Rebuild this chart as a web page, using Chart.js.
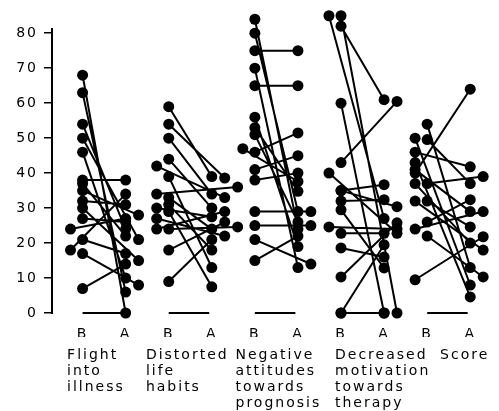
<!DOCTYPE html>
<html>
<head>
<meta charset="utf-8">
<script src="https://cdn.jsdelivr.net/npm/chart.js@4"></script>
<style>
  html, body { margin: 0; padding: 0; background: #fff; }
  canvas { display: block; background: #fff; }
</style>
</head>
<body>
<canvas id="c" width="499" height="411"></canvas>
<script>
// ---------- data ----------
const categories = [
  ["Flight", "into", "illness"],
  ["Distorted", "life", "habits"],
  ["Negative", "attitudes", "towards", "prognosis"],
  ["Decreased", "motivation", "towards", "therapy"],
  ["Score"]
];
const phaseLabels = ["B", "A"];
const yTicks = [0, 10, 20, 30, 40, 50, 60, 70, 80];

// Before / After values per subject (paired by index)
const flightB     = [68, 63, 54, 50, 46, 38, 37, 35, 32, 30, 27, 24, 21, 18, 17, 7];
const flightA     = [0, 6, 24, 21, 10, 38, 22, 28, 31, 15, 26, 27, 17, 34, 8, 14];
const distortedB  = [59, 54, 50, 44, 42, 39, 34, 33, 31, 30, 29, 27, 24, 24, 18, 9];
const distortedA  = [39, 38.6, 34, 30, 33, 13, 36, 24, 18, 27.5, 7.5, 22, 29, 24.6, 26, 21];
const negativeB   = [84, 80, 75, 70, 65, 56, 53, 51, 47, 46, 41, 38, 29, 25, 21, 15];
const negativeA   = [24, 29, 75, 13, 65, 19, 34.8, 26, 37.6, 51.5, 45, 40, 29, 25, 14, 22];
const decreasedB  = [85, 85, 82, 60, 43, 40, 35, 35, 32, 29.5, 24.6, 22.8, 18.6, 10.3, 0, 0];
const decreasedA  = [27, 0, 61, 0, 60.5, 22.8, 30.4, 36.7, 32.4, 12.9, 24, 22.8, 16, 25.8, 0, 19.5];
const scoreB      = [54, 50, 49.6, 46, 43, 41, 40, 37, 37, 32, 32, 26, 24, 22, 9.5];
const scoreA      = [13, 8, 37, 41.8, 4.6, 29, 64, 20, 39, 18, 24.6, 32.4, 29, 10.3, 21.8];

// ---------- layout helpers (horizontal dodge of overlapping dots) ----------
const flightBShift    = [0,0,0,0,0,0,0,0,0,0,0,-1,0,-1,0,0];
const flightAShift    = [0,0,0,1,0,0,0,1,0,1,0,0,0,0,1,0];
const distortedBShift = [0,0,0,0,-1,0,-1,0,0,-1,0,-1,-1,0,0,0];
const distortedAShift = [0,1,0,0,1,0,2,0,0,0,0,1,1,2,1,0];
const negativeBShift  = [0,0,0,0,0,0,0,0,-1,0,0,0,0,0,0,0];
const negativeAShift  = [0,0,0,0,0,0,0,0,0,0,0,0,1,1,1,0];
const decreasedBShift = [-1,0,0,0,0,-1,0,0,0,0,-1,0,0,0,0,0];
const decreasedAShift = [0,1,0,0,1,1,1,0,0,0,1,0,0,1,0,0];
const scoreBShift     = [0,-1,0,-1,-1,-1,-1,-1,0,-1,0,0,-1,0,-1];
const scoreAShift     = [0,0,0,0,0,0,0,0,1,1,0,0,1,1,1];

const groups = [
  [flightB, flightA, flightBShift, flightAShift, true],
  [distortedB, distortedA, distortedBShift, distortedAShift, true],
  [negativeB, negativeA, negativeBShift, negativeAShift, true],
  [decreasedB, decreasedA, decreasedBShift, decreasedAShift, false],
  [scoreB, scoreA, scoreBShift, scoreAShift, true]
];
const labelOffset = [-0.36, -0.53, -0.45, -0.14, 0.3];
const SHIFT_B = 0.28, SHIFT_A = 0.3;
const AXIS_TOP = 81.5;

const datasets = [];
groups.forEach(([B, A, bs, as, base], g) => {
  const bx = 2 * g, ax = 2 * g + 1;
  if (base) {
    datasets.push({
      data: [{x: bx, y: 0}, {x: ax - 0.06, y: 0}],
      showLine: true, pointRadius: 0, borderColor: '#000', borderWidth: 2, clip: false
    });
  }
  const pts = [];
  B.forEach((v, i) => {
    pts.push({x: bx + bs[i] * SHIFT_B, y: v});
    pts.push({x: ax + as[i] * SHIFT_A, y: A[i]});
    pts.push({x: ax, y: null});
  });
  datasets.push({
    data: pts, showLine: true, spanGaps: false,
    borderColor: '#000', borderWidth: 2,
    pointRadius: 5.5, pointBackgroundColor: '#000', pointBorderWidth: 0,
    clip: false
  });
});

const FONT = {family: 'DejaVu Sans', size: 14};
const spacing = {
  id: 'spacing',
  beforeLayout(c) { c.ctx.letterSpacing = '2px'; },
  beforeDraw(c) { c.ctx.letterSpacing = '2px'; }
};
const yAxisLine = {
  id: 'yAxisLine',
  afterDraw(c) {
    const s = c.scales.y, ctx = c.ctx;
    ctx.save();
    ctx.strokeStyle = '#000';
    ctx.lineWidth = 2;
    ctx.beginPath();
    ctx.moveTo(c.chartArea.left, s.getPixelForValue(0) + 1);
    ctx.lineTo(c.chartArea.left, s.getPixelForValue(AXIS_TOP));
    ctx.stroke();
    ctx.restore();
  }
};

new Chart(document.getElementById('c'), {
  type: 'scatter',
  data: {datasets},
  plugins: [spacing, yAxisLine],
  options: {
    responsive: false, animation: false, devicePixelRatio: 1,
    layout: {padding: {top: 7, left: 0, right: 0, bottom: 0}},
    plugins: {legend: {display: false}, tooltip: {enabled: false}},
    scales: {
      y: {
        min: 0, max: 87.5,
        afterFit(s) { s.width = 52; s.paddingTop = 0; s.paddingBottom = 0; },
        afterBuildTicks(s) { s.ticks = yTicks.map(v => ({value: v})); },
        ticks: {color: '#000', font: FONT, padding: 6},
        grid: {drawOnChartArea: false, drawTicks: true, tickLength: 8, color: '#000', lineWidth: 1.5},
        border: {display: false}
      },
      x: {
        type: 'linear', position: 'bottom', min: -0.71, max: 9.54,
        afterFit(s) { s.height = 24; s.paddingLeft = 0; s.paddingRight = 0; },
        afterBuildTicks(s) {
          s.ticks = [];
          for (let i = 0; i < categories.length * 2; i++) s.ticks.push({value: i});
        },
        ticks: {
          color: '#000', font: FONT, padding: 5, maxRotation: 0, autoSkip: false,
          callback: (v) => phaseLabels[Math.round(v) % 2]
        },
        grid: {display: false}, border: {display: false}
      },
      x2: {
        type: 'linear', axis: 'x', position: 'bottom', min: -0.71, max: 9.54,
        afterFit(s) { s.height = 74; s.paddingLeft = 0; s.paddingRight = 0; },
        afterBuildTicks(s) {
          s.ticks = categories.map((c, g) => ({value: 2 * g + labelOffset[g]}));
        },
        ticks: {
          color: '#000', font: {family: 'DejaVu Sans', size: 14, lineHeight: 1.15}, padding: 2,
          maxRotation: 0, autoSkip: false, align: 'start',
          callback: (v, i) => categories[i]
        },
        grid: {display: false}, border: {display: false}
      }
    }
  }
});
</script>
</body>
</html>
